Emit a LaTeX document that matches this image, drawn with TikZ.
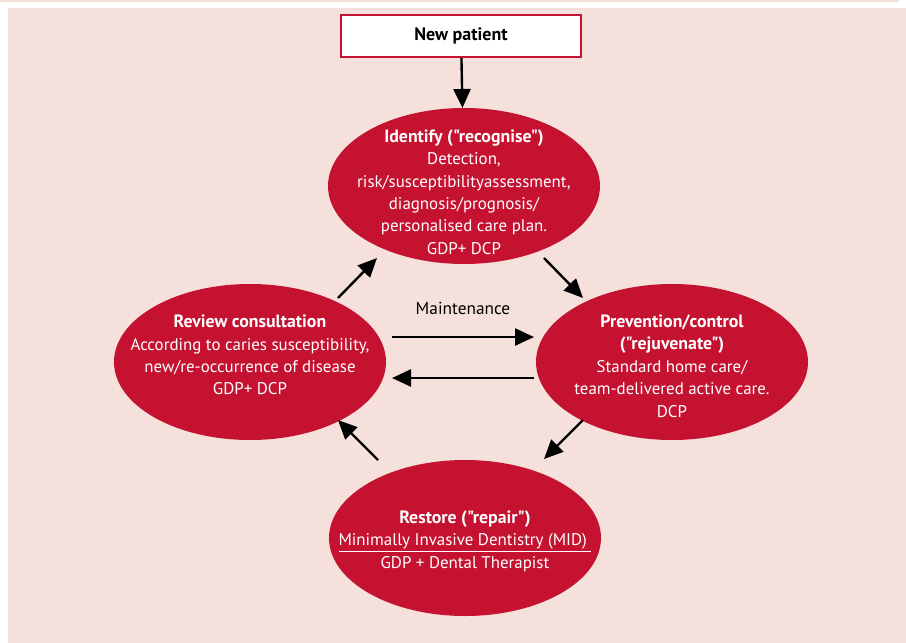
\documentclass[tikz,border=0pt]{standalone}
\usepackage{fontspec}
\setmainfont{PT Sans}[Ligatures=TeXOff]
\usetikzlibrary{arrows.meta, positioning, shapes.geometric, calc}
\definecolor{cdRed}{HTML}{C41230}
\definecolor{cdPink}{HTML}{F5E0DB}
\newcommand{\ttl}[1]{{\bfseries\fontsize{17.8}{22.4}\selectfont #1}}
\tikzset{
  arrowK/.style={-{Triangle[length=19pt, width=17pt]}, black, line width=2.4pt},
  ellRed/.style={ellipse, fill=cdRed, draw=none, inner sep=0pt, outer sep=0pt,
                 minimum width=272pt, minimum height=156pt},
  txtW/.style={text=white, align=center, font=\fontsize{16.9}{22.4}\selectfont},
  boxNew/.style={rectangle, draw=cdRed, line width=2.2pt, fill=white,
                 minimum width=240pt, minimum height=42pt,
                 font=\bfseries\fontsize{18}{20}\selectfont},
}
\begin{document}
\begin{tikzpicture}[x=1pt, y=-1pt]
    % page and panel
    \fill[white] (0,0) rectangle (906,643);
    \fill[cdPink] (0,0) rectangle (899,2);
    \fill[cdPink] (8,8) rectangle (906,643);
    \node[boxNew] (newp) at (461,36) {New patient};
    \node[ellRed, label={[txtW, yshift=-6pt]center:{\ttl{Identify ("recognise")}\\Detection,\\
      risk/susceptibilityassessment,\\diagnosis/prognosis/\\
      personalised care plan.\\GDP+ DCP}}] (identify) at (464,186) {};
    \node[ellRed, label={[txtW, yshift=7pt]center:{\ttl{Review consultation}\\
      According to caries susceptibility,\\new/re-occurrence of disease\\
      GDP+ DCP}}] (review) at (250,362) {};
    \node[ellRed, label={[txtW, yshift=-4pt]center:{\ttl{Prevention/control}\\
      \ttl{("rejuvenate")}\\Standard home care/\\
      team-delivered active care.\\DCP}}] (prevention) at (672,362) {};
    \node[ellRed, label={[txtW, yshift=-3pt]center:{\ttl{Restore ("repair")}\\
      \underline{Minimally Invasive Dentistry (MID)\ }\\
      GDP + Dental Therapist}}] (restore) at (465,538) {};
    \node[font=\fontsize{17.3}{20}\selectfont] (maint) at (463,308) {Maintenance};
    % cycle
    \draw[arrowK] (newp) -- (identify);
    \draw[arrowK] ($(review)+(88,-64)$) -- ($(identify)+(-87,72)$);
    \draw[arrowK] ($(identify)+(80,72)$) -- ($(prevention)+(-89,-64)$);
    \draw[arrowK] ($(prevention)+(-89,58)$) -- ($(restore)+(79,-79)$);
    \draw[arrowK] ($(restore)+(-87,-78)$) -- ($(review)+(88,58)$);
    \draw[arrowK] ($(review.east)+(6,-25)$) -- ($(prevention.west)+(-2,-25)$);
    \draw[arrowK] ($(prevention.west)+(-2,16)$) -- ($(review.east)+(6,16)$);
  \end{tikzpicture}
\end{document}
